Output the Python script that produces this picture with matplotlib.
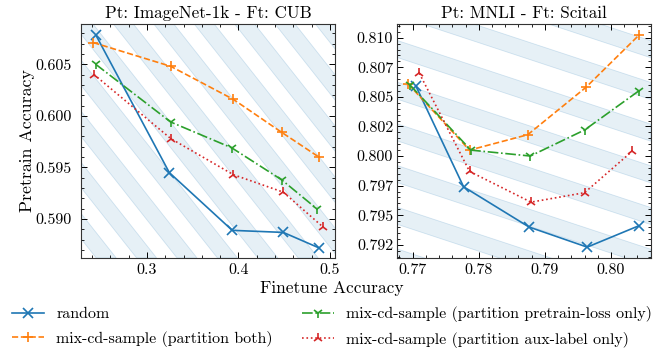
import numpy as np
import matplotlib
matplotlib.use("Agg")
import matplotlib.pyplot as plt
from matplotlib.patches import Polygon
from matplotlib.ticker import AutoMinorLocator

# --- data ---
labels = ["random",
          "mix-cd-sample (partition both)",
          "mix-cd-sample (partition pretrain-loss only)",
          "mix-cd-sample (partition aux-label only)"]

# Pt: ImageNet-1k - Ft: CUB
cub_ft = {
    "random": [0.2443, 0.3244, 0.3932, 0.4490, 0.4880],
    "both":   [0.2413, 0.3259, 0.3943, 0.4472, 0.4880],
    "loss":   [0.2439, 0.3259, 0.3926, 0.4472, 0.4855],
    "aux":    [0.2421, 0.3259, 0.3943, 0.4490, 0.4927],
}
cub_pt = {
    "random": [0.6078, 0.5945, 0.5889, 0.5887, 0.5872],
    "both":   [0.6071, 0.6048, 0.6016, 0.5984, 0.5960],
    "loss":   [0.6050, 0.5994, 0.5969, 0.5938, 0.5910],
    "aux":    [0.6040, 0.5978, 0.5943, 0.5926, 0.5892],
}

# Pt: MNLI - Ft: Scitail
sci_ft = {
    "random": [0.7705, 0.7777, 0.7876, 0.7964, 0.8042],
    "both":   [0.7693, 0.7786, 0.7874, 0.7962, 0.8042],
    "loss":   [0.7696, 0.7788, 0.7878, 0.7960, 0.8042],
    "aux":    [0.7710, 0.7786, 0.7879, 0.7960, 0.8032],
}
sci_pt = {
    "random": [0.8059, 0.7974, 0.7940, 0.7923, 0.7941],
    "both":   [0.8061, 0.8005, 0.8018, 0.8058, 0.8102],
    "loss":   [0.8060, 0.8005, 0.8000, 0.8022, 0.8055],
    "aux":    [0.8070, 0.7987, 0.7961, 0.7969, 0.8004],
}

sci_yticks = [0.7925, 0.795, 0.7975, 0.800, 0.8025, 0.805, 0.8075, 0.810]
sci_yticklabels = ["0.792", "0.795", "0.797", "0.800", "0.802", "0.805", "0.807", "0.810"]
sci_xticks = [0.77, 0.78, 0.79, 0.80]
sci_xticklabels = ["0.77", "0.78", "0.79", "0.80"]
cub_xticks = [0.3, 0.4, 0.5]
cub_xticklabels = ["0.3", "0.4", "0.5"]
cub_yticks = [0.590, 0.595, 0.600, 0.605]
cub_yticklabels = ["0.590", "0.595", "0.600", "0.605"]

keys = ["random", "both", "loss", "aux"]
colors = ["#1f77b4", "#ff7f0e", "#2ca02c", "#d62728"]
styles = ["-", "--", "-.", ":"]
markers = ["x", "+", "1", "2"]

plt.rcParams["font.family"] = ["cmr10", "DejaVu Serif"]
plt.rcParams["axes.formatter.use_mathtext"] = True
plt.rcParams["font.size"] = 11.5
plt.rcParams["axes.linewidth"] = 0.8
plt.rcParams["axes.edgecolor"] = "#333333"

fig = plt.figure(figsize=(6.64, 3.61), dpi=100)
W_FIG, H_FIG = 664, 361

ax1 = fig.add_axes([81 / W_FIG, 1 - 258 / H_FIG, 254 / W_FIG, 234 / H_FIG])
ax2 = fig.add_axes([396.7 / W_FIG, 1 - 258 / H_FIG, 254 / W_FIG, 234 / H_FIG])


def stripes_steep(ax, u0, s, period, width):
    # bands whose edges are u = u0 + s*v + k*period (pixels from top-left)
    W = ax.get_position().width * W_FIG
    H = ax.get_position().height * H_FIG
    for k in range(-12, 12):
        a = u0 + k * period
        pts = [(a, 0), (a + width, 0), (a + width + s * H, H), (a + s * H, H)]
        pts = [(u / W, 1 - v / H) for u, v in pts]
        ax.add_patch(Polygon(pts, closed=True, transform=ax.transAxes,
                             facecolor=(0.12, 0.47, 0.71, 0.11),
                             edgecolor=(0.12, 0.47, 0.71, 0.18), lw=0.6, zorder=0))


def stripes_flat(ax, v0, t, period, height):
    # bands whose edges are v = v0 + t*u + k*period
    W = ax.get_position().width * W_FIG
    H = ax.get_position().height * H_FIG
    for k in range(-12, 12):
        b = v0 + k * period
        pts = [(0, b), (0, b + height), (W, b + height + t * W), (W, b + t * W)]
        pts = [(u / W, 1 - v / H) for u, v in pts]
        ax.add_patch(Polygon(pts, closed=True, transform=ax.transAxes,
                             facecolor=(0.12, 0.47, 0.71, 0.11),
                             edgecolor=(0.12, 0.47, 0.71, 0.18), lw=0.6, zorder=0))


stripes_steep(ax1, 32.4, 0.79, 40.4, 20)
stripes_flat(ax2, 16.3, 0.33, 41.7, 17)

handles = []
for ax, fx, py in [(ax1, cub_ft, cub_pt), (ax2, sci_ft, sci_pt)]:
    hs = []
    for k, c, ls, m, lab in zip(keys, colors, styles, markers, labels):
        h, = ax.plot(fx[k], py[k], color=c, ls=ls, marker=m, ms=7.5, mew=1.2,
                     lw=1.2, label=lab, zorder=3)
        hs.append(h)
    handles = hs
    ax.tick_params(which="both", direction="in", top=True, right=True)
    ax.tick_params(which="major", length=4, width=0.7)
    ax.tick_params(which="minor", length=2, width=0.6)

ax1.set_xlim(0.2279, 0.5055)
ax1.set_ylim(0.58622, 0.6089)
ax1.set_xticks(cub_xticks, cub_xticklabels)
ax1.set_yticks(cub_yticks, cub_yticklabels)
ax1.xaxis.set_minor_locator(AutoMinorLocator())
ax1.yaxis.set_minor_locator(AutoMinorLocator())
ax1.tick_params(axis="y", which="major", pad=7)
ax1.tick_params(axis="x", which="major", pad=4)
ax1.set_title("Pt: ImageNet-1k - Ft: CUB", fontsize=12.3, pad=4)
ax1.set_ylabel("Pretrain Accuracy", fontsize=12.8, labelpad=0)

ax2.set_xlim(0.76758, 0.80601)
ax2.set_ylim(0.79138, 0.81116)
ax2.set_xticks(sci_xticks, sci_xticklabels)
ax2.set_yticks(sci_yticks, sci_yticklabels)
ax2.xaxis.set_minor_locator(AutoMinorLocator())
ax2.yaxis.set_minor_locator(AutoMinorLocator())
ax2.tick_params(axis="y", which="major", pad=2.5)
ax2.tick_params(axis="x", which="major", pad=4)
ax2.set_title("Pt: MNLI - Ft: Scitail", fontsize=12.3, pad=4)

fig.text(0.5, 1 - 288 / H_FIG, "Finetune Accuracy", ha="center", va="center", fontsize=12.5)

# legend order: column 1 = random, both ; column 2 = loss, aux
fig.legend(handles, labels, loc="upper center", bbox_to_anchor=(0.5, 1 - 303 / H_FIG),
           ncol=2, frameon=False, fontsize=11.5, handlelength=2.0,
           columnspacing=1.8, handletextpad=0.8, borderaxespad=0.0,
           labelspacing=0.6, borderpad=0.2)

fig.savefig("out.png", dpi=100)
